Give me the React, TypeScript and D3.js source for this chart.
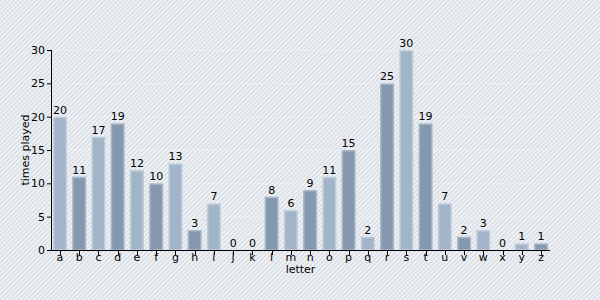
import React from "react";
import * as d3 from "d3";

const letters = ["a","b","c","d","e","f","g","h","i","j","k","l","m","n","o","p","q","r","s","t","u","v","w","x","y","z"];
const timesPlayed = [20,11,17,19,12,10,13,3,7,0,0,8,6,9,11,15,2,25,30,19,7,2,3,0,1,1];
const yTicks = [0,5,10,15,20,25,30];

const W = 600, H = 300;
const margin = { left: 51, right: 50, top: 50, bottom: 50 };
const FONT = "'DejaVu Sans', Verdana, sans-serif";

export default function App() {
  const x = d3.scaleBand<string>().domain(letters).range([margin.left, W - margin.right]).paddingInner(0.27).paddingOuter(0.1);
  const y = d3.scaleLinear().domain([0, 30]).range([H - margin.bottom, margin.top]);
  const y0 = y(0);
  return (
    <svg width={W} height={H} style={{ position: "absolute", left: 0, top: 0 }} fontFamily={FONT}>
      <defs>
        <pattern id="stripes" width={3.2} height={10} patternUnits="userSpaceOnUse" patternTransform="rotate(45)">
          <rect width={3.2} height={10} fill="#eff2f5" />
          <line x1={0.5} y1={0} x2={0.5} y2={10} stroke="#cfd5dd" strokeWidth={1} />
        </pattern>
      </defs>
      <rect width={W} height={H} fill="url(#stripes)" />
      {yTicks.slice(1).map((t) => (
        <line key={"g" + t} x1={margin.left} x2={W - margin.right} y1={y(t) + 0.5} y2={y(t) + 0.5} stroke="#ffffff" strokeOpacity={0.35} />
      ))}
      {letters.map((l, i) => {
        const v = timesPlayed[i];
        const bx = x(l)!;
        const bw = x.bandwidth();
        const top = y(v);
        const light = i % 2 === 0;
        return (
          <g key={l}>
            <rect x={bx + 0.75} y={top + 0.75} width={bw - 1.5} height={Math.max(0, y0 - top - 0.75)}
              fill={light ? "#a2b4c7" : "#8499ad"} stroke={light ? "#bfcddb" : "#a7b7c7"} strokeWidth={1.5} />
            <text x={bx + bw / 2} y={top - 3} textAnchor="middle" fontSize={11} fill="#000">{v}</text>
          </g>
        );
      })}
      {/* y axis */}
      <line x1={margin.left + 0.5} x2={margin.left + 0.5} y1={y(30)} y2={y0} stroke="#000" />
      {yTicks.map((t) => (
        <g key={"y" + t}>
          <line x1={margin.left - 4} x2={margin.left} y1={y(t) + 0.5} y2={y(t) + 0.5} stroke="#000" />
          <text x={margin.left - 6} y={y(t) + 4} textAnchor="end" fontSize={11} fill="#000">{t}</text>
        </g>
      ))}
      {/* x axis */}
      <line x1={margin.left} x2={W - margin.right} y1={y0 + 0.5} y2={y0 + 0.5} stroke="#000" />
      {letters.map((l) => {
        const cx = x(l)! + x.bandwidth() / 2;
        return (
          <g key={"x" + l}>
            <line x1={Math.round(cx) + 0.5} x2={Math.round(cx) + 0.5} y1={y0} y2={y0 + 5} stroke="#000" />
            <text x={cx} y={y0 + 10.5} textAnchor="middle" fontSize={11} fill="#000">{l}</text>
          </g>
        );
      })}
      <text x={(margin.left + W - margin.right) / 2} y={y0 + 22.5} textAnchor="middle" fontSize={11} fill="#000">letter</text>
      <text transform={`translate(29, ${(y0 + y(30)) / 2}) rotate(-90)`} textAnchor="middle" fontSize={11} fill="#000">times played</text>
    </svg>
  );
}
